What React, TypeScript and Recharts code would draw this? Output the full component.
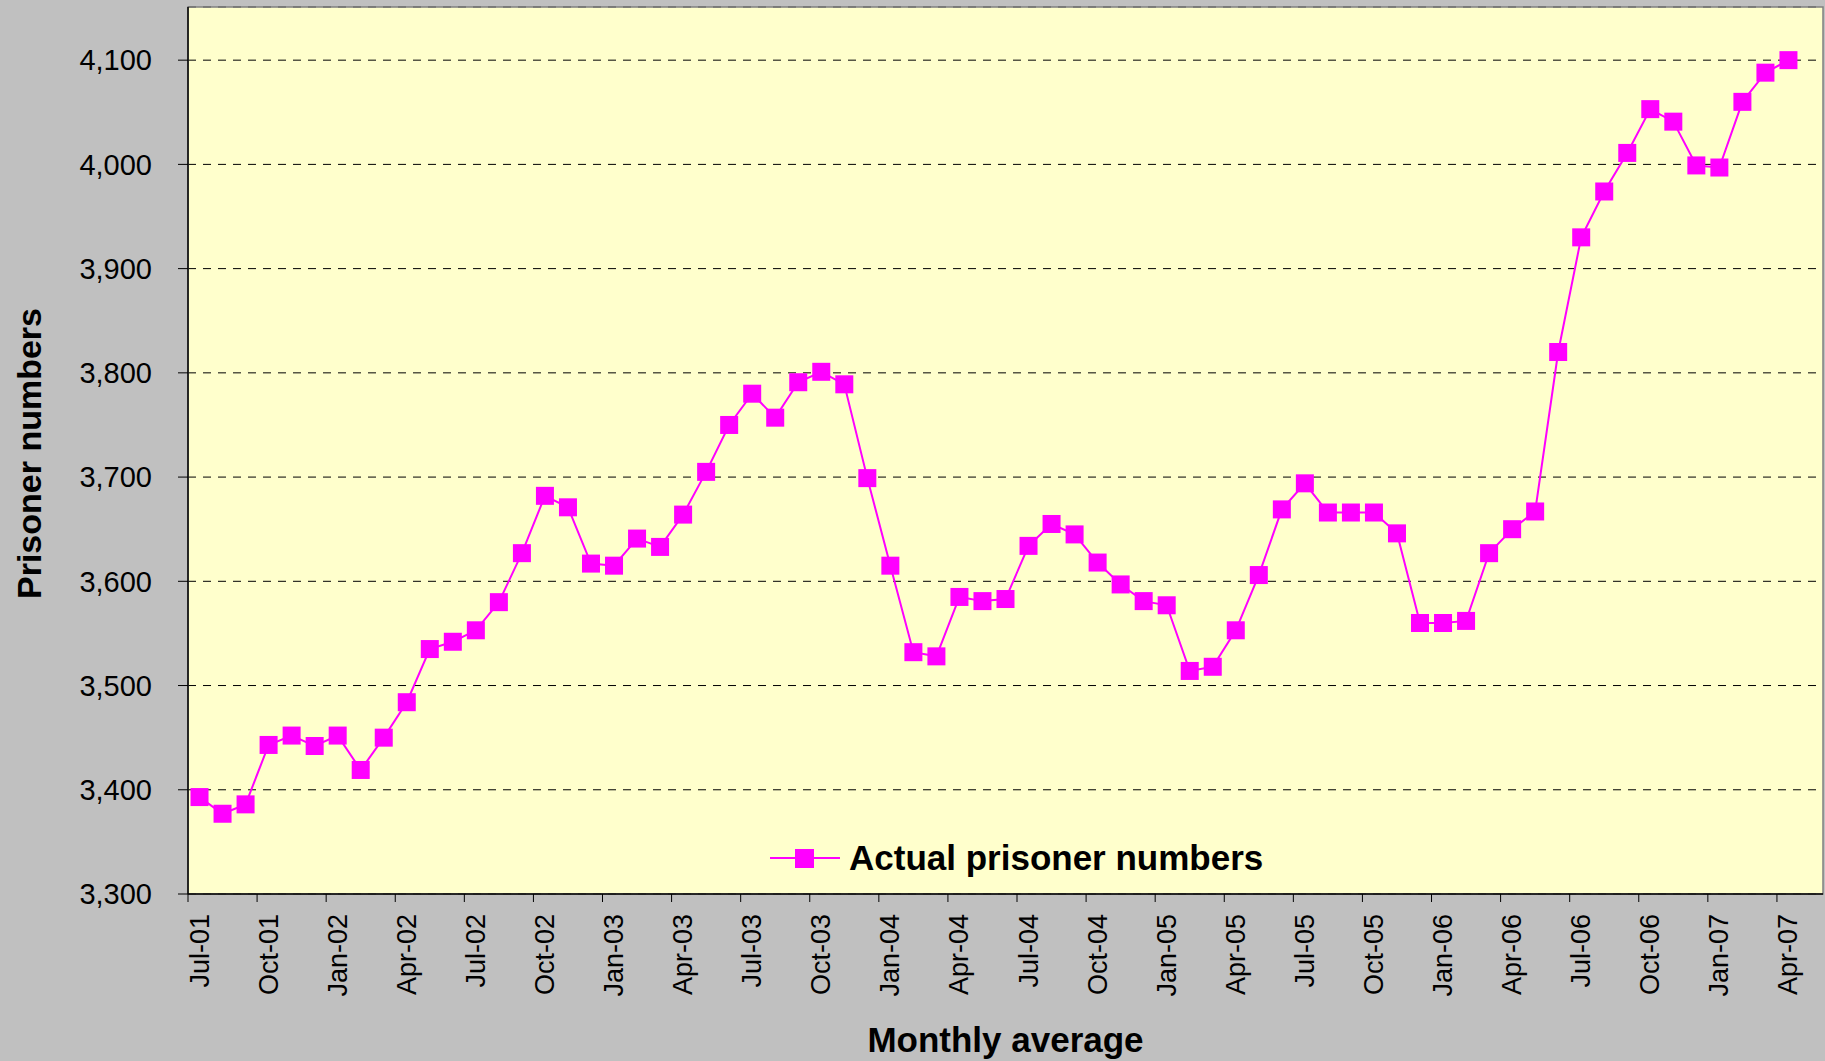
import React from 'react';
import { LineChart, Line, XAxis, YAxis, CartesianGrid, Legend, ReferenceArea } from 'recharts';

const months = [
  'Jul-01', 'Aug-01', 'Sep-01', 'Oct-01', 'Nov-01', 'Dec-01',
  'Jan-02', 'Feb-02', 'Mar-02', 'Apr-02', 'May-02', 'Jun-02', 'Jul-02', 'Aug-02', 'Sep-02', 'Oct-02', 'Nov-02', 'Dec-02',
  'Jan-03', 'Feb-03', 'Mar-03', 'Apr-03', 'May-03', 'Jun-03', 'Jul-03', 'Aug-03', 'Sep-03', 'Oct-03', 'Nov-03', 'Dec-03',
  'Jan-04', 'Feb-04', 'Mar-04', 'Apr-04', 'May-04', 'Jun-04', 'Jul-04', 'Aug-04', 'Sep-04', 'Oct-04', 'Nov-04', 'Dec-04',
  'Jan-05', 'Feb-05', 'Mar-05', 'Apr-05', 'May-05', 'Jun-05', 'Jul-05', 'Aug-05', 'Sep-05', 'Oct-05', 'Nov-05', 'Dec-05',
  'Jan-06', 'Feb-06', 'Mar-06', 'Apr-06', 'May-06', 'Jun-06', 'Jul-06', 'Aug-06', 'Sep-06', 'Oct-06', 'Nov-06', 'Dec-06',
  'Jan-07', 'Feb-07', 'Mar-07', 'Apr-07', 'May-07',
];

// monthly average prisoner numbers, Jul-01 .. Apr-07
const actualPrisoners = [
  3393, 3377, 3386, 3443, 3452, 3442, 3452, 3419, 3450, 3484,
  3535, 3542, 3553, 3580, 3627, 3682, 3671, 3617, 3615, 3641,
  3633, 3664, 3705, 3750, 3780, 3757, 3791, 3801, 3789, 3699,
  3615, 3532, 3528, 3585, 3581, 3583, 3634, 3655, 3645, 3618,
  3597, 3581, 3577, 3514, 3518, 3553, 3606, 3669, 3694, 3666,
  3666, 3666, 3646, 3560, 3560, 3562, 3627, 3650, 3667, 3820,
  3930, 3974, 4011, 4053, 4041, 3999, 3997, 4060, 4088, 4100,
];

const yTicks = [3300, 3400, 3500, 3600, 3700, 3800, 3900, 4000, 4100];

const data = months.map((m, i) => ({
  month: m,
  actual: i < actualPrisoners.length ? actualPrisoners[i] : null,
}));

const FONT = '"Liberation Sans", Arial, Helvetica, sans-serif';
const MAGENTA = '#FF00FF';
const W = 1825;
const H = 1061;
const Y_AXIS_W = 188;
const X_AXIS_H = 167;
const MARGIN = { top: 7, right: 2, bottom: 0, left: 0 };
const PLOT_W = W - MARGIN.left - MARGIN.right - Y_AXIS_W;
const BAND = PLOT_W / months.length;

const MonthTick = ({ x, y, payload }: any) => {
  const edge = x - BAND / 2;
  return (
    <g>
      <line x1={edge} x2={edge} y1={y - 20} y2={y - 12} stroke="#000" strokeWidth={1} />
      <text
        x={x}
        y={y}
        transform={`rotate(-90 ${x} ${y})`}
        textAnchor="end"
        dominantBaseline="central"
        fontSize={27}
        fontFamily={FONT}
        fill="#000"
      >
        {payload.value}
      </text>
    </g>
  );
};

const YTitle = ({ viewBox }: any) => {
  const x = viewBox.x + 41;
  const y = viewBox.y + viewBox.height / 2 + 3;
  return (
    <text x={x} y={y} transform={`rotate(-90 ${x} ${y})`} textAnchor="middle"
      fontSize={34} fontWeight="bold" fontFamily={FONT} fill="#000">
      Prisoner numbers
    </text>
  );
};

const XTitle = ({ viewBox }: any) => (
  <text x={viewBox.x + viewBox.width / 2} y={viewBox.y + 158} textAnchor="middle"
    fontSize={35} fontWeight="bold" fontFamily={FONT} fill="#000">
    Monthly average
  </text>
);

const squareDot = (props: any) => {
  const { cx, cy, index } = props;
  if (cx == null || cy == null) return <g key={`dot-${index}`} />;
  return <rect key={`dot-${index}`} x={cx - 9} y={cy - 9} width={18} height={18} fill={MAGENTA} />;
};

const LegendBox = () => (
  <div style={{ display: 'flex', alignItems: 'center', height: 40, fontFamily: FONT }}>
    <svg width={70} height={20}>
      <line x1={0} x2={70} y1={10} y2={10} stroke={MAGENTA} strokeWidth={2} />
      <rect x={25} y={1} width={19} height={19} fill={MAGENTA} />
    </svg>
    <span style={{ marginLeft: 9, fontSize: 35, fontWeight: 'bold', lineHeight: '40px', color: '#000', whiteSpace: 'nowrap' }}>
      Actual prisoner numbers
    </span>
  </div>
);

export default function App() {
  React.useEffect(() => {
    document.body.style.margin = '0';
  }, []);
  return (
    <div style={{ position: 'absolute', left: 0, top: 0, width: W, height: H, background: '#C0C0C0', overflow: 'hidden' }}>
      <LineChart width={W} height={H} data={data} margin={MARGIN}>
        <CartesianGrid vertical={false} fill="#FFFFCC" stroke="#000" strokeDasharray="8 7" />
        <ReferenceArea y1={3300} y2={4151} fill="none" stroke="#808080" strokeWidth={1.5} />
        <XAxis
          dataKey="month"
          scale="band"
          interval={2}
          height={X_AXIS_H}
          tick={<MonthTick />}
          tickLine={false}
          tickSize={6}
          tickMargin={14}
          axisLine={{ stroke: '#000', strokeWidth: 1.5 }}
          label={{ content: (p: any) => <XTitle {...p} /> }}
        />
        <YAxis
          width={Y_AXIS_W}
          domain={[3300, 4151]}
          ticks={yTicks}
          allowDataOverflow
          tickFormatter={(v: number) => v.toLocaleString('en-US')}
          tick={{ fill: '#000', fontSize: 29, fontFamily: FONT }}
          tickSize={10}
          tickMargin={26}
          tickLine={{ stroke: '#000' }}
          axisLine={{ stroke: '#000', strokeWidth: 1.5 }}
          label={{ content: (p: any) => <YTitle {...p} /> }}
        />
        <Legend
          layout="horizontal"
          verticalAlign="middle"
          align="center"
          content={<LegendBox />}
          wrapperStyle={{ left: 770, top: 838, width: 'auto', height: 'auto' }}
        />
        <Line
          type="linear"
          dataKey="actual"
          name="Actual prisoner numbers"
          stroke={MAGENTA}
          strokeWidth={2}
          dot={squareDot}
          activeDot={false}
          isAnimationActive={false}
        />
      </LineChart>
    </div>
  );
}
